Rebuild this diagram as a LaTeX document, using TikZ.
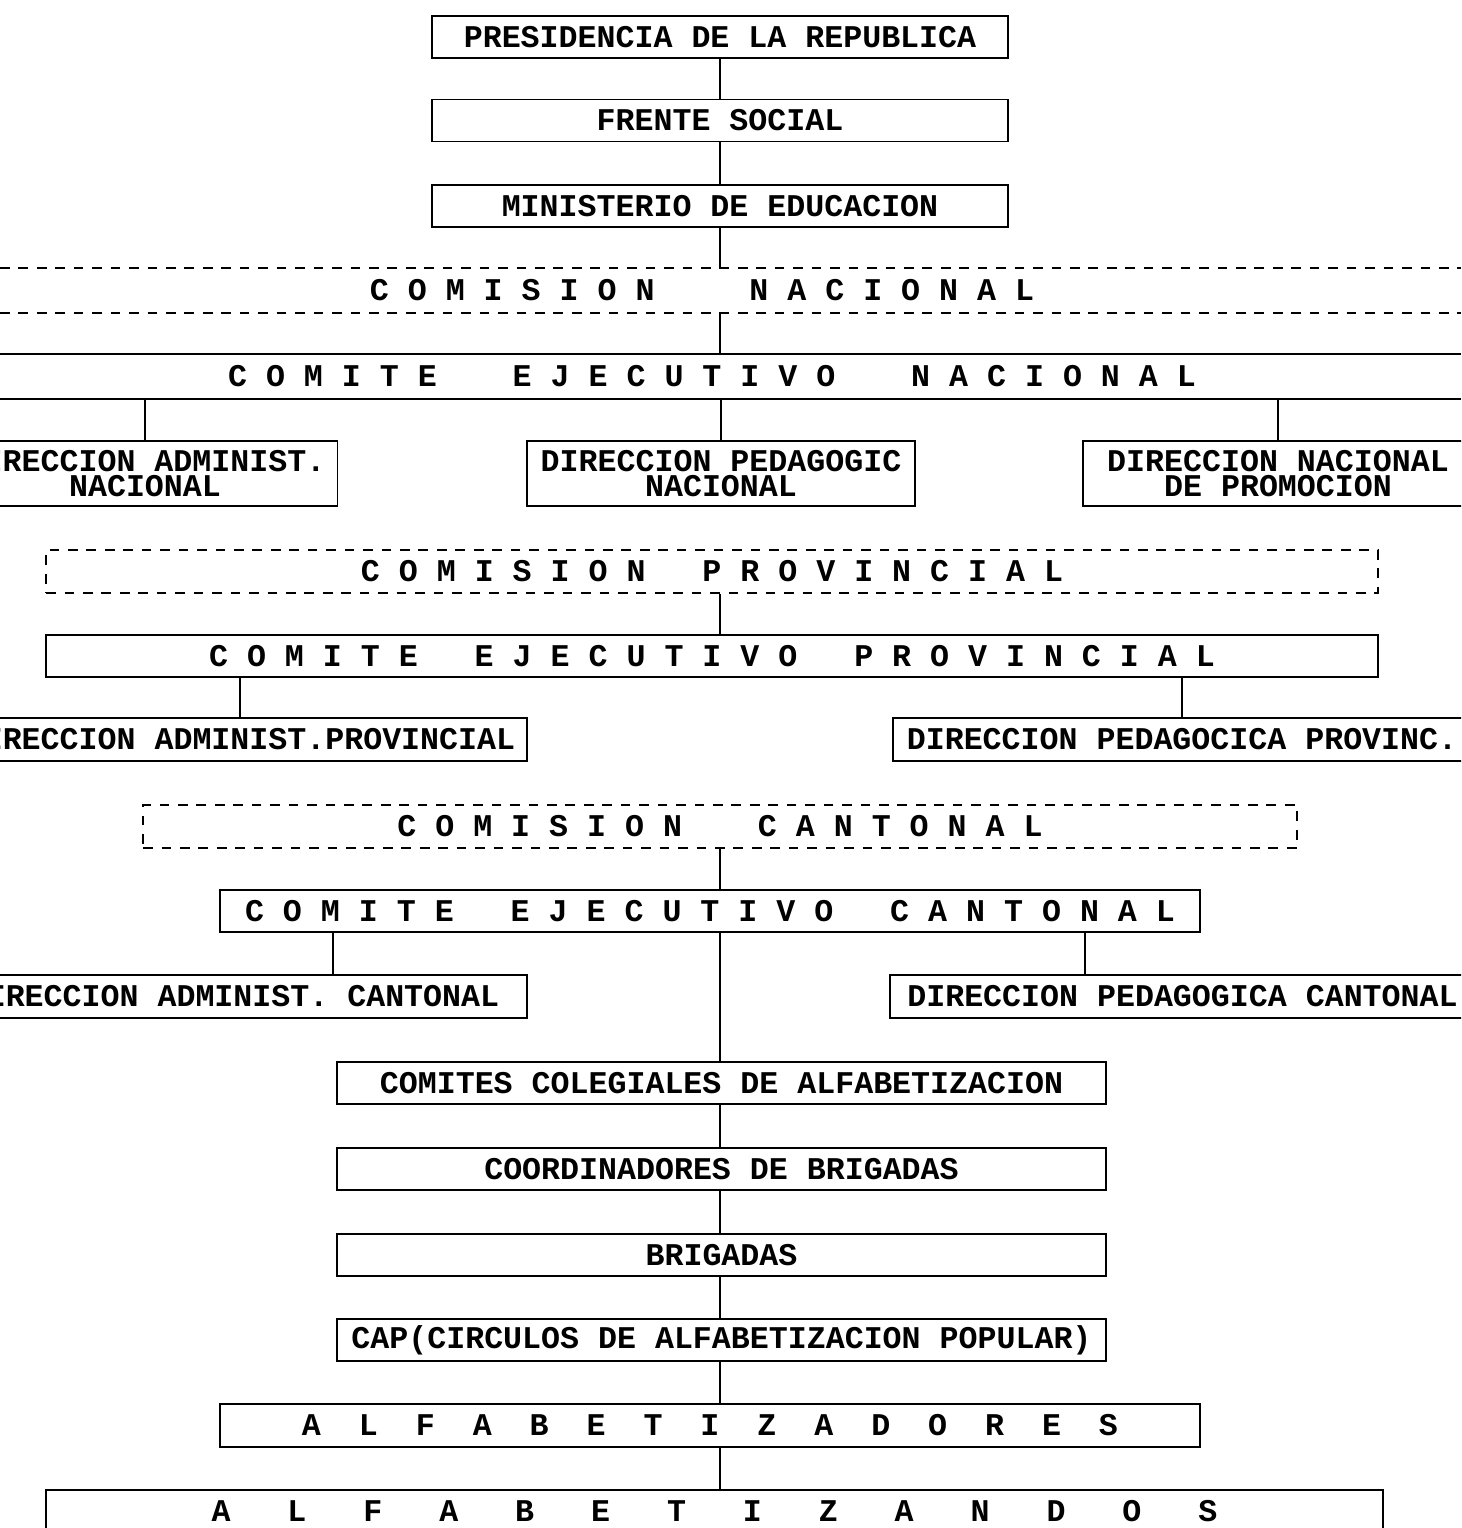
\documentclass[tikz,border=0pt]{standalone}
\usepackage{fontspec}
\setmonofont{Liberation Mono}

\tikzset{
	caja/.style={draw, inner sep=0pt, minimum height=0.84cm, align=center,
		font=\ttfamily\bfseries\frenchspacing\fontsize{18}{14}\selectfont},
	texto/.style={inner sep=0pt, minimum height=0.86cm,
		font=\ttfamily\bfseries\fontsize{18}{14}\selectfont},
	punteada/.style={dash pattern=on 5.5pt off 5pt},
}

\begin{document}
\begin{tikzpicture}[x=0.02cm, y=-0.02cm, line width=1pt]

%\draw[help lines, ultra thin] (0,0) grid[step=100] (1461,1528);
\useasboundingbox (0,0) rectangle (1461,1528);
\clip (0,0) rectangle (1461,1528);
\coordinate (izq) at (0,0);
\coordinate (der) at (1461,0);
\coordinate (eje) at (720,0);
\coordinate (ramaI) at (333,0);
\coordinate (ramaD) at (1085,0);

%nodos
				\node [caja, minimum width=11.52cm] (pres) at (720,37) {PRESIDENCIA DE LA REPUBLICA};
				\node [caja, minimum width=11.52cm] (frente) at (720,120.5) {FRENTE SOCIAL};
				\node [caja, minimum width=11.52cm] (minis) at (720,206) {MINISTERIO DE EDUCACION};

				\node [texto] (cn) at (702,290.5) {C~O~M~I~S~I~O~N~~~~~N~A~C~I~O~N~A~L};
				\node [texto] (cen) at (712,376.5) {C~O~M~I~T~E~~~~E~J~E~C~U~T~I~V~O~~~~N~A~C~I~O~N~A~L};
				\node [caja, minimum width=7.7cm, minimum height=1.3cm] (dan) at (145,473.5) {DIRECCION ADMINIST.\\NACIONAL};
				\node [caja, minimum width=7.76cm, minimum height=1.3cm] (dpn) at (721,473.5) {DIRECCION PEDAGOGIC\\NACIONAL};
				\node [caja, minimum width=7.8cm, minimum height=1.3cm] (dnp) at (1278,473.5) {DIRECCION NACIONAL\\DE PROMOCION};

				\node [caja, punteada, minimum width=26.64cm, minimum height=0.86cm] (cp) at (712,571.5) {C~O~M~I~S~I~O~N~~~P~R~O~V~I~N~C~I~A~L};
				\node [caja, minimum width=26.64cm] (cep) at (712,656) {C~O~M~I~T~E~~~E~J~E~C~U~T~I~V~O~~~P~R~O~V~I~N~C~I~A~L};
				\node [caja, minimum width=11.48cm, minimum height=0.86cm] (dap) at (240,739.5) {DIRECCION ADMINIST.PROVINCIAL};
				\node [caja, minimum width=11.56cm, minimum height=0.86cm] (dpp) at (1182,739.5) {DIRECCION PEDAGOCICA PROVINC.};

				\node [caja, punteada, minimum width=23.08cm, minimum height=0.86cm] (cc) at (720,826.5) {C~O~M~I~S~I~O~N~~~~C~A~N~T~O~N~A~L};
				\node [caja, minimum width=19.6cm] (cec) at (710,911) {C~O~M~I~T~E~~~E~J~E~C~U~T~I~V~O~~~C~A~N~T~O~N~A~L};
				\node [caja, minimum width=11.74cm, minimum height=0.86cm] (dac) at (233.5,996.5) {DIRECCION ADMINIST. CANTONAL};
				\node [caja, minimum width=11.7cm, minimum height=0.86cm] (dpc) at (1182.5,996.5) {DIRECCION PEDAGOGICA CANTONAL};

				\node [caja, minimum width=15.38cm] (coleg) at (721.5,1083) {COMITES COLEGIALES DE ALFABETIZACION};
				\node [caja, minimum width=15.38cm] (coord) at (721.5,1169) {COORDINADORES DE BRIGADAS};
				\node [caja, minimum width=15.38cm] (brig) at (721.5,1255) {BRIGADAS};
				\node [caja, minimum width=15.38cm] (cap) at (721.5,1340) {CAP(CIRCULOS DE ALFABETIZACION POPULAR)};
				\node [caja, minimum width=19.6cm, minimum height=0.86cm] (alfdores) at (710,1425.5) {A~~L~~F~~A~~B~~E~~T~~I~~Z~~A~~D~~O~~R~~E~~S};
				\node [caja, minimum width=26.74cm] (alfandos) at (714.5,1511) {A~~~L~~~F~~~A~~~B~~~E~~~T~~~I~~~Z~~~A~~~N~~~D~~~O~~~S};

%bandas nacionales
				\draw [punteada] (cn.north -| izq) -- (cn.north -| der);
				\draw [punteada] (cn.south -| izq) -- (cn.south -| der);
				\draw (cen.north -| izq) -- (cen.north -| der);
				\draw (cen.south -| izq) -- (cen.south -| der);

%lineas
				\draw (pres) -- (frente);
				\draw (frente) -- (minis);
				\draw (minis.south) -- (minis.south |- cn.north);
				\draw (cn.south -| eje) -- (cen.north -| eje);
				\draw (dan.north) -- (dan.north |- cen.south);
				\draw (dpn.north) -- (dpn.north |- cen.south);
				\draw (dnp.north) -- (dnp.north |- cen.south);

				\draw (cp.south -| eje) -- (cep.north -| eje);
				\draw (dap.north) -- (dap.north |- cep.south);
				\draw (dpp.north) -- (dpp.north |- cep.south);

				\draw (cc.south -| eje) -- (cec.north -| eje);
				\draw (cec.south -| ramaI) -- (dac.north -| ramaI);
				\draw (cec.south -| ramaD) -- (dpc.north -| ramaD);
				\draw (cec.south -| eje) -- (coleg.north -| eje);

				\draw (coleg.south -| eje) -- (coord.north -| eje);
				\draw (coord.south -| eje) -- (brig.north -| eje);
				\draw (brig.south -| eje) -- (cap.north -| eje);
				\draw (cap.south -| eje) -- (alfdores.north -| eje);
				\draw (alfdores.south -| eje) -- (alfandos.north -| eje);

\end{tikzpicture}
\end{document}
